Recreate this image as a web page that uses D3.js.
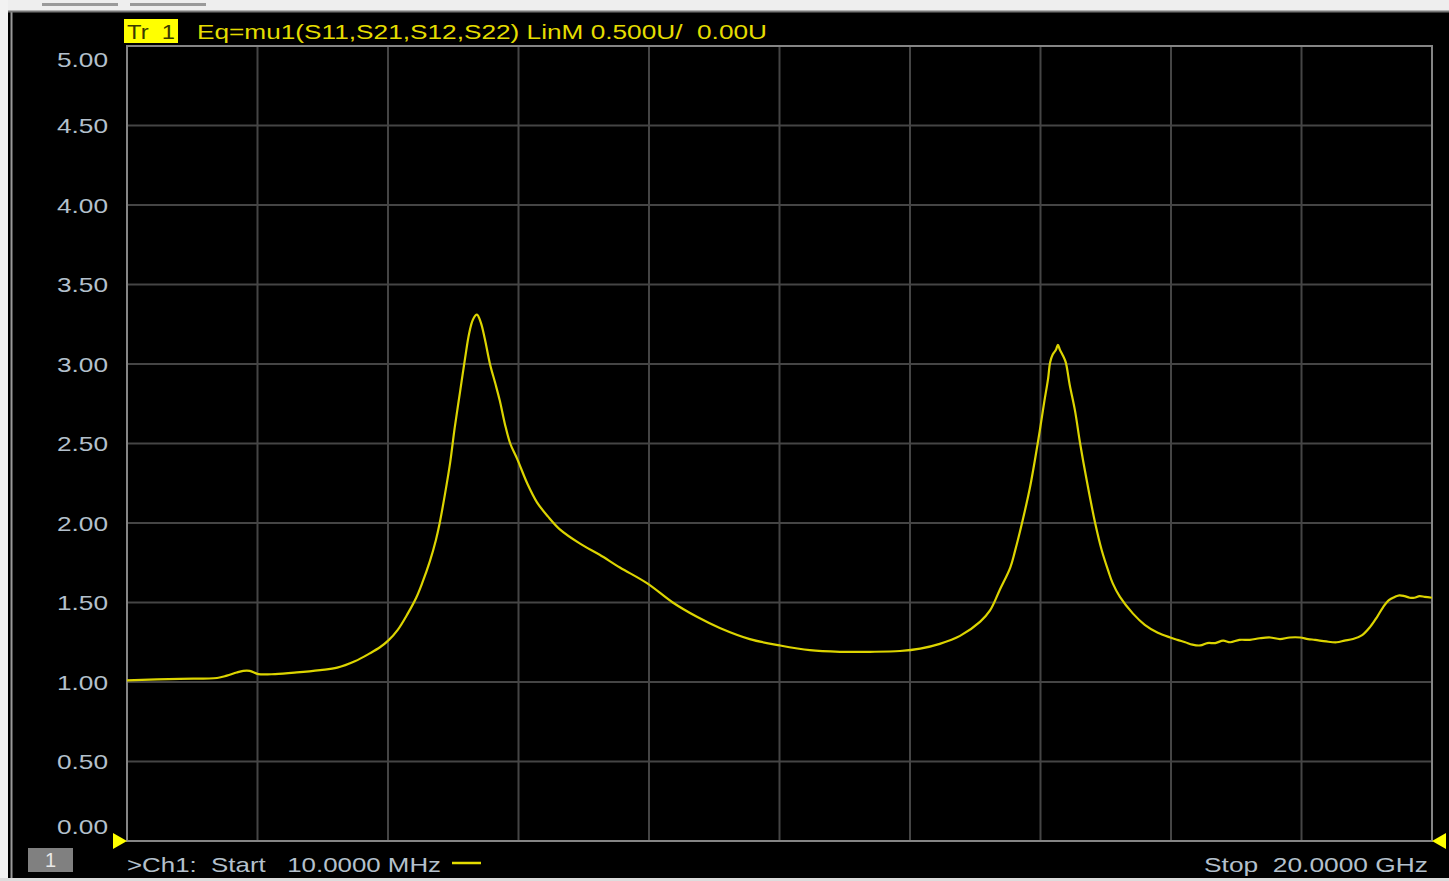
<!DOCTYPE html>
<html>
<head>
<meta charset="utf-8">
<script src="https://cdn.jsdelivr.net/npm/d3@7"></script>
<style>
  html, body { margin: 0; padding: 0; background: #000; overflow: hidden; }
  text { font-family: "Liberation Sans", Arial, sans-serif; white-space: pre; }
</style>
</head>
<body>
<div id="chart-area"></div>
<script>
// trace: frequency (GHz) vs mu1 value
const freqGHz = [0.01, 0.82, 1.39, 1.54, 1.69, 1.79, 1.89, 2.02, 2.28, 2.61, 2.97, 3.23, 3.50, 3.73, 3.89,
    4.01, 4.16, 4.31, 4.44, 4.53, 4.65, 4.74, 4.80, 4.88, 4.96, 5.03, 5.11, 5.19, 5.25, 5.31, 5.37, 5.43,
    5.49, 5.57, 5.65, 5.72, 5.80, 5.88, 5.99, 6.14, 6.29, 6.46, 6.64, 6.95, 7.25, 7.56, 7.98, 8.37,
    8.74, 9.09, 9.55, 10.01, 10.47, 10.93, 11.39, 11.85, 12.16, 12.46, 12.77, 13.08, 13.23, 13.38, 13.54,
    13.61, 13.72, 13.84, 13.96, 14.06, 14.12, 14.15, 14.19, 14.24, 14.27, 14.30, 14.35, 14.39, 14.45,
    14.53, 14.61, 14.71, 14.84, 14.94, 15.04, 15.11, 15.22, 15.42, 15.60, 15.80, 15.99, 16.10, 16.22,
    16.33, 16.45, 16.56, 16.68, 16.80, 16.91, 17.05, 17.21, 17.36, 17.52, 17.67, 17.82, 17.98, 18.10,
    18.21, 18.38, 18.54, 18.66, 18.79, 18.93, 19.05, 19.16, 19.25, 19.34, 19.43, 19.50, 19.58, 19.66,
    19.73, 19.81, 19.89, 20.00];
const mu1 = [1.01, 1.02, 1.025, 1.04, 1.06, 1.07, 1.07, 1.05, 1.05, 1.06, 1.075, 1.09, 1.13, 1.18, 1.22,
    1.26, 1.33, 1.43, 1.53, 1.62, 1.76, 1.89, 2.00, 2.18, 2.38, 2.60, 2.82, 3.04, 3.19, 3.28, 3.31, 3.26,
    3.16, 3.00, 2.88, 2.77, 2.62, 2.50, 2.40, 2.25, 2.13, 2.04, 1.96, 1.87, 1.80, 1.72, 1.62, 1.50,
    1.41, 1.34, 1.27, 1.23, 1.20, 1.19, 1.19, 1.195, 1.21, 1.24, 1.29, 1.38, 1.45, 1.58, 1.72,
    1.82, 2.00, 2.22, 2.50, 2.76, 2.91, 3.01, 3.06, 3.09, 3.12, 3.09, 3.05, 3.01, 2.87,
    2.71, 2.50, 2.27, 2.00, 1.83, 1.70, 1.62, 1.535, 1.43, 1.36, 1.31, 1.28, 1.265, 1.25,
    1.235, 1.23, 1.245, 1.245, 1.26, 1.25, 1.265, 1.265, 1.275, 1.28, 1.27, 1.28, 1.28, 1.27,
    1.265, 1.255, 1.25, 1.26, 1.27, 1.295, 1.345, 1.41, 1.47, 1.515, 1.535, 1.545, 1.54, 1.53,
    1.53, 1.54, 1.535, 1.53];

const yTicks = [0, 0.5, 1, 1.5, 2, 2.5, 3, 3.5, 4, 4.5, 5];
const xDivisions = d3.range(11);   // 10 divisions from start to stop
const startGHz = 0.01, stopGHz = 20;

const titleText = "Eq=mu1(S11,S21,S12,S22) LinM 0.500U/  0.00U";
const startText = ">Ch1:  Start   10.0000 MHz";
const stopText = "Stop  20.0000 GHz";

const width = 1449, height = 881;
const plot = { left: 127, right: 1432, top: 46, bottom: 841 };

const svg = d3.select('#chart-area')
    .append('svg')
    .attr('width', width)
    .attr('height', height)
    .style('display', 'block')
    .style('background', '#000');

// window frame
svg.append('rect').attr('x', 0).attr('y', 0).attr('width', width).attr('height', 11).attr('fill', '#eeeeee');
svg.append('rect').attr('x', 42).attr('y', 3).attr('width', 76).attr('height', 3).attr('fill', '#9a9a9a');
svg.append('rect').attr('x', 130).attr('y', 3).attr('width', 76).attr('height', 3).attr('fill', '#9a9a9a');
svg.append('rect').attr('x', 0).attr('y', 0).attr('width', 8).attr('height', height).attr('fill', '#f2f2f2');
svg.append('rect').attr('x', 0).attr('y', 878).attr('width', width).attr('height', 3).attr('fill', '#dddddd');
svg.append('line').attr('x1', 11.5).attr('x2', 11.5).attr('y1', 11).attr('y2', 878)
    .attr('stroke', '#9a9a9a').attr('stroke-width', 2);
svg.append('line').attr('x1', 8).attr('x2', width).attr('y1', 11.5).attr('y2', 11.5)
    .attr('stroke', '#777').attr('stroke-width', 2);

const xScale = d3.scaleLinear()
    .domain([startGHz, stopGHz])
    .range([plot.left, plot.right]);

const yScale = d3.scaleLinear()
    .domain([0, 5])
    .range([plot.bottom, plot.top]);

const g = svg.append('g');

// grid
const xGrid = xDivisions.map(i => startGHz + i * (stopGHz - startGHz) / 10);
g.selectAll('.vgrid').data(xGrid.slice(1, -1)).enter().append('line')
    .attr('class', 'vgrid')
    .attr('x1', d => xScale(d)).attr('x2', d => xScale(d))
    .attr('y1', plot.top).attr('y2', plot.bottom)
    .attr('stroke', '#454545').attr('stroke-width', 2);
g.selectAll('.hgrid').data(yTicks.slice(1, -1)).enter().append('line')
    .attr('class', 'hgrid')
    .attr('x1', plot.left).attr('x2', plot.right)
    .attr('y1', d => yScale(d)).attr('y2', d => yScale(d))
    .attr('stroke', '#454545').attr('stroke-width', 2);
g.append('rect')
    .attr('x', plot.left).attr('y', plot.top)
    .attr('width', plot.right - plot.left).attr('height', plot.bottom - plot.top)
    .attr('fill', 'none').attr('stroke', '#858585').attr('stroke-width', 2);

// y labels (top and bottom ones pushed inside)
svg.selectAll('.ylab').data(yTicks).enter().append('text')
    .attr('class', 'ylab')
    .attr('x', 108)
    .attr('y', d => yScale(d) + (d === 5 ? 13 : d === 0 ? -15 : 0) + 7.5)
    .attr('text-anchor', 'end')
    .attr('font-size', 21)
    .attr('textLength', 51)
    .attr('lengthAdjust', 'spacingAndGlyphs')
    .attr('fill', '#b4c0cc')
    .text(d => d.toFixed(2));

// trace
const traceData = freqGHz.map((f, i) => ({ f: f, v: mu1[i] }));
const line = d3.line()
    .x(d => xScale(d.f))
    .y(d => yScale(d.v))
    .curve(d3.curveCatmullRom.alpha(0.5));
g.append('path')
    .datum(traceData)
    .attr('d', line)
    .attr('fill', 'none')
    .attr('stroke', '#dcd400')
    .attr('stroke-width', 2.2);

// title
svg.append('rect').attr('x', 124).attr('y', 19).attr('width', 54).attr('height', 24).attr('fill', '#ffff00');
svg.append('text').attr('x', 127).attr('y', 39).attr('font-size', 20)
    .attr('textLength', 48).attr('lengthAdjust', 'spacingAndGlyphs')
    .attr('fill', '#3a3a00').text('Tr  1');
svg.append('text').attr('x', 197).attr('y', 39).attr('font-size', 20)
    .attr('textLength', 570).attr('lengthAdjust', 'spacingAndGlyphs')
    .attr('fill', '#e4dc00').text(titleText);

// start / stop markers
svg.append('path')
    .attr('d', `M${plot.left - 14},${plot.bottom - 8} L${plot.left},${plot.bottom} L${plot.left - 14},${plot.bottom + 8} Z`)
    .attr('fill', '#ffff00');
svg.append('path')
    .attr('d', `M${plot.right + 14},${plot.bottom - 8} L${plot.right},${plot.bottom} L${plot.right + 14},${plot.bottom + 8} Z`)
    .attr('fill', '#ffff00');

// footer
svg.append('rect').attr('x', 28).attr('y', 848).attr('width', 45).attr('height', 24).attr('fill', '#808080');
svg.append('text').attr('x', 50.5).attr('y', 867).attr('text-anchor', 'middle').attr('font-size', 20)
    .attr('fill', '#e8e8e8').text('1');
svg.append('text').attr('x', 127).attr('y', 872).attr('font-size', 21)
    .attr('textLength', 314).attr('lengthAdjust', 'spacingAndGlyphs')
    .attr('fill', '#b4c0cc').text(startText);
svg.append('line').attr('x1', 452).attr('x2', 481).attr('y1', 863).attr('y2', 863)
    .attr('stroke', '#e4dc00').attr('stroke-width', 2.5);
svg.append('text').attr('x', 1428).attr('y', 872).attr('font-size', 21)
    .attr('text-anchor', 'end')
    .attr('textLength', 224).attr('lengthAdjust', 'spacingAndGlyphs')
    .attr('fill', '#b4c0cc').text(stopText);
</script>
</body>
</html>
